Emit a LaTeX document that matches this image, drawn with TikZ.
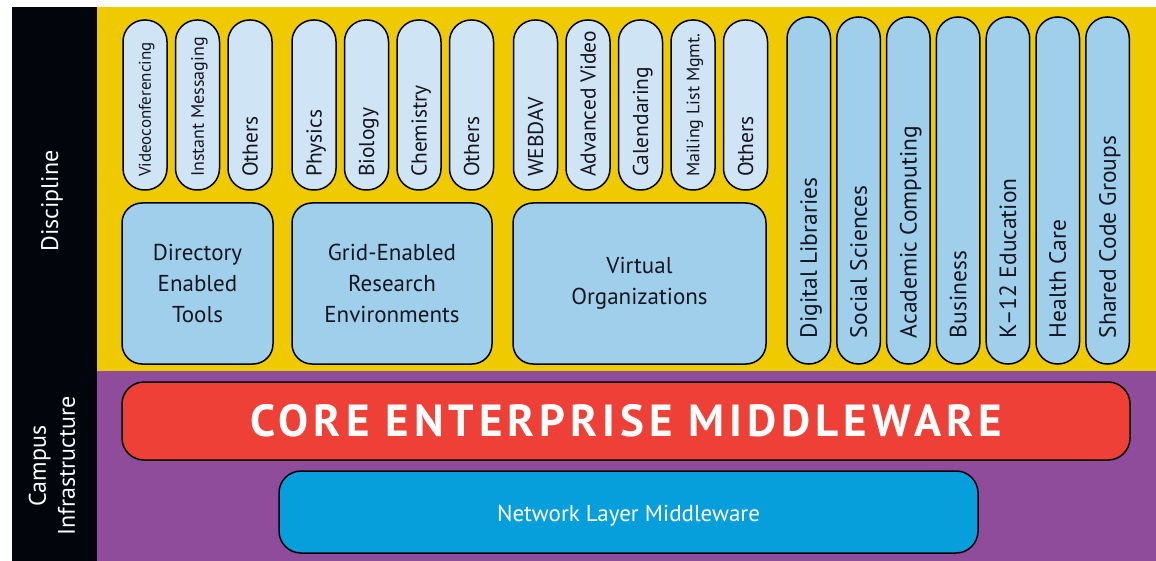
\documentclass[tikz,border=0pt]{standalone}
\usepackage{fontspec}
\setmainfont{PT Sans}
\usepackage{graphicx}
\usepackage{tikz}
\usetikzlibrary{positioning}

\definecolor{colblack}{HTML}{02050C}
\definecolor{discyellow}{HTML}{F0CA00}
\definecolor{campurple}{HTML}{8E4C9A}
\definecolor{pillblue}{HTML}{CFE4F4}
\definecolor{boxblue}{HTML}{A0CFEC}
\definecolor{corered}{HTML}{EE4036}
\definecolor{netblue}{HTML}{069FDB}
\definecolor{ink}{HTML}{15161F}

\newcommand{\vlab}[2]{\rotatebox{90}{\makebox[#1][l]{\smash{#2}\vphantom{H}}}}

\begin{document}
\begin{tikzpicture}[x=1pt,y=-1pt,node distance=8.5pt,
  box/.style={draw,line width=1.5pt,rounded corners=20pt,fill=boxblue,inner sep=0pt,outer sep=0pt,text=ink},
  big/.style={box,minimum height=161pt,anchor=south west,align=center,font=\fontsize{23}{31}\selectfont},
  pill/.style={box,rounded corners=21.5pt,fill=pillblue,minimum width=44pt,minimum height=170pt,font=\fontsize{21.5}{21.5}\selectfont},
  tall/.style={pill,fill=boxblue,minimum width=43.5pt,minimum height=347pt,font=\fontsize{23.5}{23.5}\selectfont},
  side/.style={rotate=90,text=white,align=center,font=\fontsize{24}{29}\selectfont}]
\useasboundingbox (0,0) rectangle (1156,561);
\fill[colblack] (12,7) rectangle (97,561);
\fill[discyellow] (97,7) rectangle (1156,371);
\fill[campurple] (97,371) rectangle (1156,561);

\path node[side] (disc) at (52,201) {Discipline};
\path node[side] (camp) at (52,466) {Campus\\Infrastructure};

% discipline layer
\path node[big,minimum width=151pt] (dir) at (122,364) {Directory\\Enabled\\Tools};
\path node[big,minimum width=200pt] (grid) at (292,364) {Grid-Enabled\\Research\\Environments};
\path node[big,minimum width=253pt] (virt) at (513,364) {Virtual\\Organizations};

\path node[pill,anchor=south west] (vid) at (123,190) {\fontsize{17}{17}\selectfont\vlab{144pt}{Videoconferencing}};
\path node[pill,right=of vid] (im) {\fontsize{18}{18}\selectfont\vlab{144pt}{Instant Messaging}};
\path node[pill,right=of im] (oth1) {\vlab{144pt}{Others}};
\path node[pill,right=20pt of oth1] (phy) {\vlab{144pt}{Physics}};
\path node[pill,right=of phy] (bio) {\vlab{144pt}{Biology}};
\path node[pill,right=of bio] (chem) {\vlab{144pt}{Chemistry}};
\path node[pill,right=of chem] (oth2) {\vlab{144pt}{Others}};
\path node[pill,right=20pt of oth2] (dav) {\vlab{144pt}{WEBDAV}};
\path node[pill,right=of dav] (adv) {\vlab{144pt}{Advanced Video}};
\path node[pill,right=of adv] (cal) {\vlab{144pt}{Calendaring}};
\path node[pill,right=of cal] (mail) {\fontsize{18}{18}\selectfont\vlab{144pt}{Mailing List Mgmt.}};
\path node[pill,right=of mail] (oth3) {\vlab{144pt}{Others}};

\path node[tall,anchor=south west] (dlib) at (787,364) {\vlab{295pt}{Digital Libraries}};
\path node[tall,right=6.3pt of dlib] (soc) {\vlab{295pt}{Social Sciences}};
\path node[tall,right=6.3pt of soc] (acad) {\vlab{295pt}{Academic Computing}};
\path node[tall,right=6.3pt of acad] (bus) {\vlab{295pt}{Business}};
\path node[tall,right=6.3pt of bus] (k12) {\vlab{295pt}{K--12 Education}};
\path node[tall,right=6.3pt of k12] (health) {\vlab{295pt}{Health Care}};
\path node[tall,right=6.3pt of health] (code) {\vlab{295pt}{Shared Code Groups}};

% campus layer
\path node[box,fill=corered,rounded corners=22pt,minimum width=1008pt,minimum height=78pt,anchor=north west,text=white,
  font=\fontsize{45}{45}\selectfont\bfseries\addfontfeature{LetterSpace=11}] (core) at (122,382) {CORE ENTERPRISE MIDDLEWARE};
\path node[box,fill=netblue,rounded corners=22pt,minimum width=699pt,minimum height=82pt,anchor=north west,text=white,
  font=\fontsize{23}{23}\selectfont] (net) at (279,471) {\raisebox{-4pt}[\height][\depth]{Network Layer Middleware}};
\end{tikzpicture}
\end{document}
